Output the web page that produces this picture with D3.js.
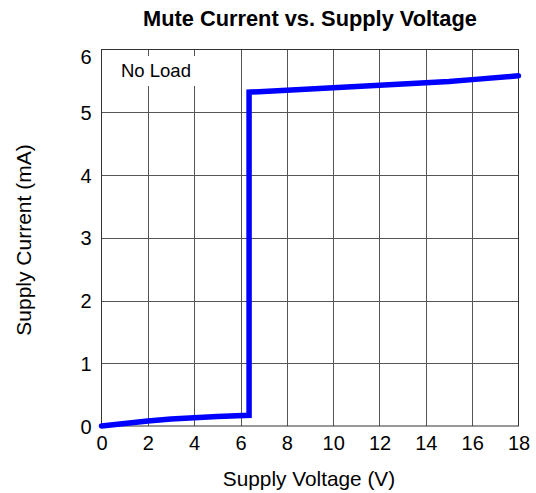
<!DOCTYPE html>
<html>
<head>
<meta charset="utf-8">
<script src="https://cdn.jsdelivr.net/npm/d3@7"></script>
<style>
  html, body { margin: 0; padding: 0; background: #fff; }
  svg { display: block; font-family: "Liberation Sans", Arial, sans-serif; }
</style>
</head>
<body>
<svg id="chart" width="536" height="493"></svg>
<script>
// Supply voltage (V) and mute supply current (mA), no load
const voltage = [0, 1, 2, 3, 4, 5, 6.37, 6.37, 8, 10, 12, 14, 15, 16, 18];
const current = [0, 0.04, 0.08, 0.11, 0.13, 0.15, 0.17, 5.32, 5.35, 5.39, 5.43, 5.47, 5.49, 5.52, 5.58];
const xTicks = [0, 2, 4, 6, 8, 10, 12, 14, 16, 18];
const yTicks = [0, 1, 2, 3, 4, 5, 6];

const svg = d3.select("#chart");
const m = { left: 101.5, right: 518.5, top: 49.5, bottom: 426 };
const FONT = "Liberation Sans, Arial, sans-serif";

const x = d3.scaleLinear().domain([0, 18]).range([m.left, m.right]);
const y = d3.scaleLinear().domain([0, 6]).range([m.bottom, m.top]);

// grid
const grid = svg.append("g");
grid.selectAll("line.vx").data(xTicks.slice(1, -1)).join("line")
  .attr("x1", d => Math.round(x(d)) + 0.5).attr("x2", d => Math.round(x(d)) + 0.5)
  .attr("y1", m.top).attr("y2", m.bottom)
  .attr("stroke", "#555").attr("stroke-width", 1);
grid.selectAll("line.hy").data(yTicks.slice(1, -1)).join("line")
  .attr("y1", d => Math.round(y(d)) + 0.5).attr("y2", d => Math.round(y(d)) + 0.5)
  .attr("x1", m.left).attr("x2", m.right)
  .attr("stroke", "#555").attr("stroke-width", 1);

// frame
svg.append("rect")
  .attr("x", m.left).attr("y", m.top)
  .attr("width", m.right - m.left).attr("height", m.bottom - m.top)
  .attr("fill", "none").attr("stroke", "#333").attr("stroke-width", 1);

// annotation with white backing
svg.append("rect").attr("x", 110).attr("y", 56).attr("width", 90).attr("height", 30).attr("fill", "#fff");
svg.append("text").attr("x", 121).attr("y", 77).style("font-size", "18.5px").attr("fill", "#000").text("No Load");

// tick labels
const xAxis = d3.axisBottom(x).tickValues(xTicks).tickFormat(d3.format("d")).tickSize(0);
const gx = svg.append("g").attr("transform", `translate(0,${m.bottom})`).call(xAxis);
gx.attr("font-size", null).attr("font-family", null);
gx.select(".domain").remove();
gx.selectAll("text").attr("y", 23.5).attr("dy", null)
  .style("font-size", "20px").attr("fill", "#000").style("font-family", FONT);

const yAxis = d3.axisLeft(y).tickValues(yTicks).tickFormat(d3.format("d")).tickSize(0);
const gy = svg.append("g").attr("transform", `translate(${m.left},0)`).call(yAxis);
gy.attr("font-size", null).attr("font-family", null);
gy.select(".domain").remove();
gy.selectAll("text").attr("x", -10).attr("dy", d => d === 6 ? "0.68em" : "0.36em")
  .style("font-size", "20px").attr("fill", "#000").style("font-family", FONT);

// curve
const line = d3.line().x((d, i) => x(voltage[i])).y(d => y(d));
svg.append("path").datum(current)
  .attr("d", line)
  .attr("fill", "none").attr("stroke", "#0000ff").attr("stroke-width", 5.5)
  .attr("stroke-linejoin", "miter").attr("stroke-linecap", "round");

// titles
svg.append("text").attr("x", 310).attr("y", 26).attr("text-anchor", "middle")
  .style("font-size", "21.8px").attr("font-weight", "bold").text("Mute Current vs. Supply Voltage");
svg.append("text").attr("x", 309).attr("y", 486).attr("text-anchor", "middle")
  .style("font-size", "20.8px").text("Supply Voltage (V)");
svg.append("text").attr("transform", `translate(31,${240}) rotate(-90)`)
  .attr("text-anchor", "middle").style("font-size", "21px").text("Supply Current (mA)");
</script>
</body>
</html>
